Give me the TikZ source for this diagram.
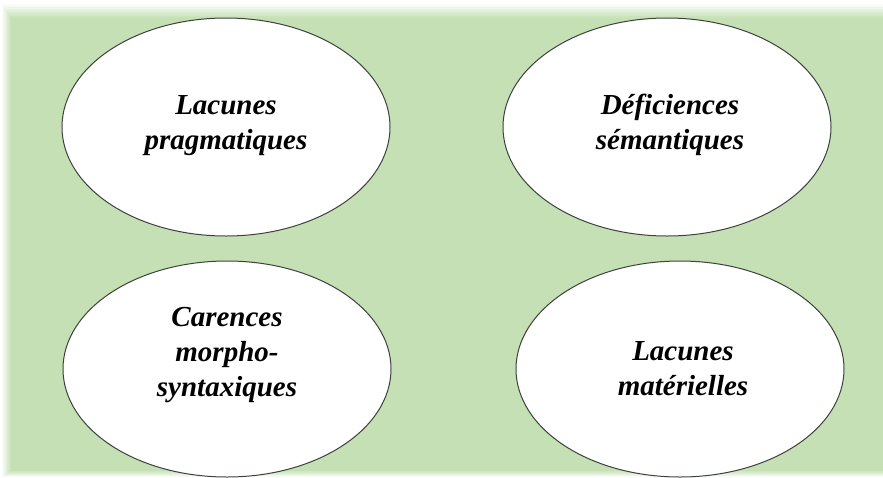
\documentclass[tikz,border=0pt]{standalone}
\usepackage{fontspec}
\setmainfont{Liberation Serif}
\usepackage{xcolor}
\usetikzlibrary{shapes.geometric}
\definecolor{panelgreen}{RGB}{197,224,180}
\definecolor{ovalline}{RGB}{60,66,60}
\tikzset{
  ovalbox/.style={ellipse,draw=ovalline,line width=1pt,fill=white,minimum width=328pt,minimum height=218pt,inner sep=0pt},
  ovaltext/.style={align=center,font=\fontsize{29}{35}\selectfont\bfseries\itshape,inner sep=0pt},
}
\begin{document}
\begin{tikzpicture}[x=1pt,y=-1pt]
  \useasboundingbox (0,0) rectangle (883,477);
  % soft-edged panel
  \fill[white] (0,0) rectangle (883,477);
  \foreach \k in {0,...,9}
    \fill[panelgreen!\the\numexpr 10+\k*10\relax] (2+\k,4+1.5*\k) rectangle (883,477-0.7*\k);
  % the four ovals
  \node[ovalbox] (pragma) at (226,127) {};
  \node[ovalbox] (seman) at (667,127) {};
  \node[ovalbox,minimum height=216pt] (morpho) at (227,369) {};
  \node[ovalbox,minimum height=216pt] (mater) at (680,369) {};
  \node[ovaltext] (pragmatxt) at ([yshift=1pt]pragma.center) {Lacunes\\pragmatiques};
  \node[ovaltext] (semantxt) at ([xshift=3pt,yshift=2pt]seman.center) {Déficiences\\sémantiques};
  \node[ovaltext] (morphotxt) at ([yshift=14pt]morpho.center) {Carences\\morpho-\\syntaxiques};
  \node[ovaltext] (matertxt) at ([xshift=3pt,yshift=0pt]mater.center) {Lacunes\\matérielles};
\end{tikzpicture}
\end{document}
